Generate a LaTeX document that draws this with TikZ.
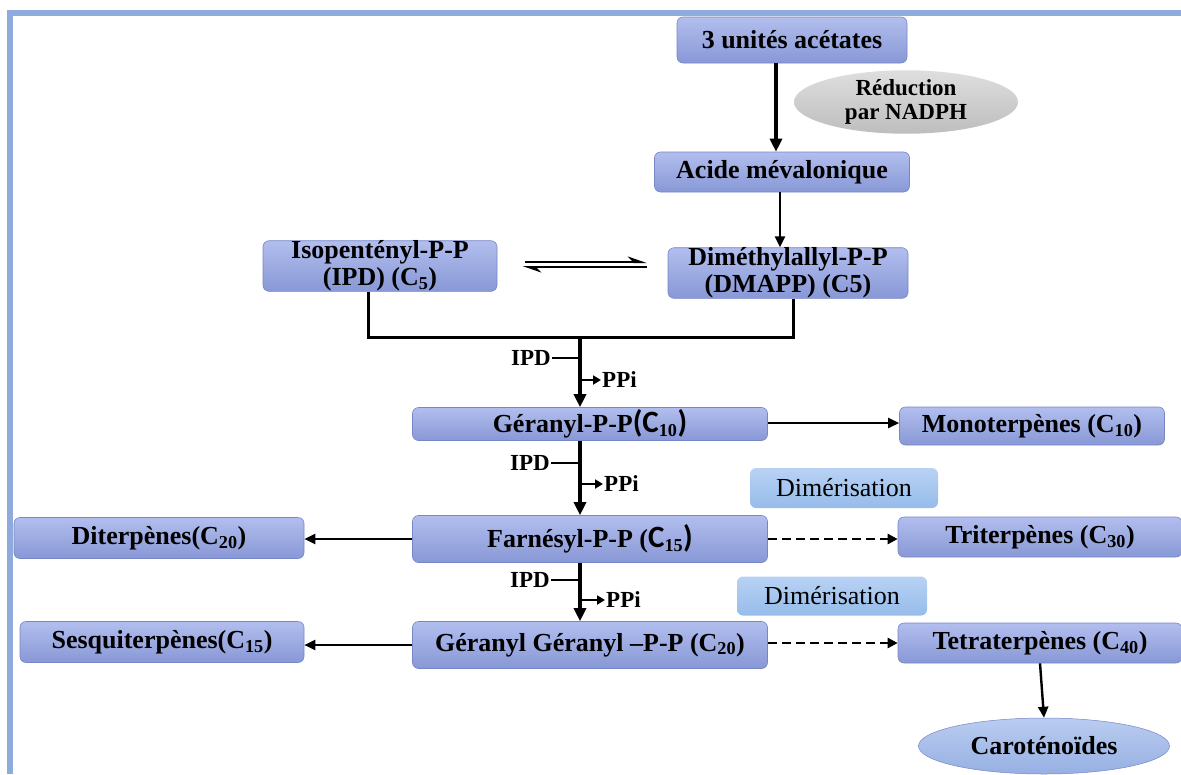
\documentclass[tikz,border=0pt]{standalone}
\usepackage{fontspec}
\setmainfont{Liberation Serif}
\newfontfamily\calibrifont{Carlito}
\usetikzlibrary{arrows.meta,shapes.geometric,calc}
\definecolor{boxtop}{RGB}{178,190,238}
\definecolor{boxbot}{RGB}{136,152,214}
\definecolor{boxline}{RGB}{118,134,198}
\definecolor{dimtop}{RGB}{184,210,244}
\definecolor{dimbot}{RGB}{150,188,234}
\definecolor{graytop}{RGB}{222,222,222}
\definecolor{graybot}{RGB}{190,190,190}
\definecolor{cartop}{RGB}{186,204,240}
\definecolor{carbot}{RGB}{150,176,226}
\definecolor{framecol}{RGB}{143,170,220}
\tikzset{
  box/.style={rounded corners=6pt, draw=boxline, line width=0.6pt,
    top color=boxtop, bottom color=boxbot, inner sep=0pt, align=center,
    font=\bfseries\fontsize{26}{27}\selectfont},
  dimbox/.style={rounded corners=6pt, draw=none,
    top color=dimtop, bottom color=dimbot, inner sep=0pt, align=center,
    font=\fontsize{26}{27}\selectfont},
  oval/.style={ellipse, inner sep=0pt, align=center},
  arr/.style={line width=3.2pt, -{Triangle[length=13pt,width=12pt]}},
  sarr/.style={line width=2.4pt, -{Triangle[length=11pt,width=10pt]}},
  darr/.style={line width=2.6pt, dash pattern=on 9pt off 5pt, -{Triangle[length=10pt,width=10pt]}},
  lab/.style={font=\bfseries\fontsize{23}{24}\selectfont, inner sep=1pt},
  tick/.style={line width=2.6pt},
  smallarr/.style={line width=2.6pt, -{Triangle[length=8pt,width=9pt]}},
  harp/.style={line width=2pt, -{Stealth[harpoon,length=16pt,width=11pt]}},
  frameline/.style={draw=framecol, line width=6pt}
}
\newcommand{\bigC}[1]{{\calibrifont\fontsize{31}{31}\selectfont #1}}
\begin{document}
\begin{tikzpicture}[x=1pt,y=-1pt]
\useasboundingbox (0,0) rectangle (1181,774);
% frame
\draw[frameline] (10,774) -- (10,13) -- (1181,13);

% nodes
\node[box, minimum width=230, minimum height=46] (a3) at (792,40) {3 unités acétates};
\node[oval, top color=graytop, bottom color=graybot, minimum width=224, minimum height=60,
      font=\bfseries\fontsize{23}{24}\selectfont] (red) at (906,102) {Réduction\\par NADPH};
\node[box, minimum width=255, minimum height=40] (mev) at (782,172) {Acide mévalonique};
\node[box, minimum width=234, minimum height=48] (ipp) at (380,266) {Isopentényl-P-P\\(IPD) (C\textsubscript{5})};
\node[box, minimum width=240, minimum height=50] (dma) at (788,273) {Diméthylallyl-P-P\\(DMAPP) (C5)};
\node[box, minimum width=355, minimum height=33] (ger) at (590,424) {Géranyl-P-P\bigC{(C}\textsubscript{10}\bigC{)}};
\node[box, minimum width=265, minimum height=38] (mono) at (1032,426) {Monoterpènes (C\textsubscript{10})};
\node[dimbox, minimum width=188, minimum height=40] (dim1) at (844,488) {Dimérisation};
\node[box, minimum width=355, minimum height=47] (far) at (590,539) {Farnésyl-P-P (\bigC{C}\textsubscript{15}\bigC{)}};
\node[box, minimum width=290, minimum height=41] (dit) at (159,538) {Diterpènes(C\textsubscript{20})};
\node[box, minimum width=284, minimum height=40] (tri) at (1040,537) {Triterpènes (C\textsubscript{30})};
\node[dimbox, minimum width=190, minimum height=39] (dim2) at (832,596) {Dimérisation};
\node[box, minimum width=355, minimum height=47] (gg) at (590,645) {Géranyl Géranyl –P-P (C\textsubscript{20})};
\node[box, minimum width=284, minimum height=41] (ses) at (162,642) {Sesquiterpènes(C\textsubscript{15})};
\node[box, minimum width=284, minimum height=40] (tet) at (1040,643) {Tetraterpènes (C\textsubscript{40})};
\node[oval, top color=cartop, bottom color=carbot, draw=boxline, line width=0.5pt,
      minimum width=251, minimum height=56,
      font=\bfseries\fontsize{26}{27}\selectfont] (car) at (1044,746) {Caroténoïdes};

% top arrows
\draw[arr] ([xshift=-16pt]a3.south) -- ([xshift=-16pt]a3.south |- mev.north);
\draw[sarr] ([xshift=-2pt]mev.south) -- ([xshift=-2pt]mev.south |- dma.north);

% equilibrium
\draw[harp] ($(ipp.east)+(28,-4)$) -- ($(ipp.east -| dma.west)+(-21,-4)$);
\draw[harp] ($(ipp.east -| dma.west)+(-21,1)$) -- ($(ipp.east)+(25,1)$);

% bracket
\coordinate (jn) at (580,337);
\draw[line width=3pt] ([xshift=-12pt]ipp.south) |- (jn) -| ([xshift=5pt]dma.south);

% stem 1
\draw[arr] (jn) -- (jn |- ger.north);
\node[lab, anchor=east] (ipd1) at (552,358) {IPD};
\draw[tick] (ipd1.east) -- (ipd1.east -| jn);
\node[lab, anchor=west] (ppi1) at (601,380) {PPi};
\draw[smallarr] (ppi1.west -| jn) -- (ppi1.west);

% stem 2
\draw[arr] (ger.south -| jn) -- (far.north -| jn);
\node[lab, anchor=east] (ipd2) at (551,463) {IPD};
\draw[tick] (ipd2.east) -- (ipd2.east -| jn);
\node[lab, anchor=west] (ppi2) at (603,484) {PPi};
\draw[smallarr] (ppi2.west -| jn) -- (ppi2.west);

% stem 3
\draw[arr] (far.south -| jn) -- (gg.north -| jn);
\node[lab, anchor=east] (ipd3) at (551,580) {IPD};
\draw[tick] (ipd3.east) -- (ipd3.east -| jn);
\node[lab, anchor=west] (ppi3) at (605,600) {PPi};
\draw[smallarr] (ppi3.west -| jn) -- (ppi3.west);

% side arrows
\draw[sarr] ([yshift=1pt]ger.east) -- ([yshift=1pt]ger.east -| mono.west);
\draw[sarr] (far.west) -- (far.west -| dit.east);
\draw[sarr] (gg.west) -- (gg.west -| ses.east);
\draw[darr] (far.east) -- (far.east -| tri.west);
\draw[darr] ([yshift=2pt]gg.east) -- ([yshift=2pt]gg.east -| tet.west);
\draw[sarr] (tet.south) -- (car.north);
\end{tikzpicture}
\end{document}
